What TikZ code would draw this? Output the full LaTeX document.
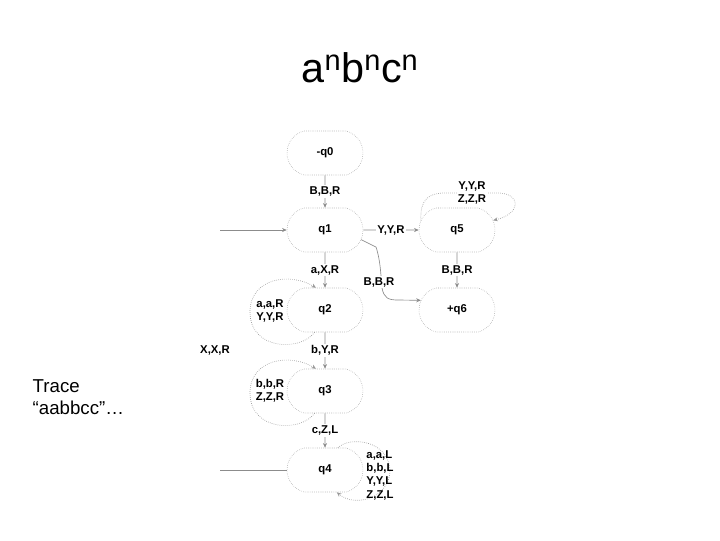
\documentclass[tikz,border=0pt]{standalone}
\usepackage{fontspec}
\setmainfont{Liberation Sans}
\usetikzlibrary{shapes.misc,arrows.meta}
\begin{document}
\begin{tikzpicture}[x=0.75pt,y=-0.75pt,
  state/.style={rounded rectangle, rounded rectangle arc length=150, draw=black!40, densely dotted, minimum width=57pt, minimum height=33pt, inner sep=0pt, font=\fontsize{8.5}{9}\selectfont\bfseries},
  edge/.style={draw=black!45, line width=0.5pt, -{Stealth[length=3.5pt,width=3pt]}},
  plain/.style={draw=black!45, line width=0.5pt},
  loopline/.style={draw=black!40, densely dotted, line width=0.5pt, -{Stealth[length=3.5pt,width=3pt]}},
  lab/.style={fill=white, inner sep=1pt, font=\fontsize{8.5}{10}\selectfont\bfseries, align=center},
  flab/.style={inner sep=1pt, font=\fontsize{8.5}{10}\selectfont\bfseries, align=left}]
\useasboundingbox (0,0) rectangle (720,540);
% title
\node (title) at (360,68) {\fontsize{31}{34}\selectfont a\textsuperscript{n}b\textsuperscript{n}c\textsuperscript{n}};
% trace
\node[anchor=west, align=left, font=\fontsize{14}{16}\selectfont] (trace) at (28,397) {Trace\\“aabbcc”…};
% states
\node[state] (q0) at (325,153) {-q0};
\node[state] (q1) at (325,230) {q1};
\node[state] (q5) at (457,230) {q5};
\node[state] (q2) at (325,310) {q2};
\node[state] (q6) at (457,310) {+q6};
\node[state] (q3) at (325,391) {q3};
\node[state] (q4) at (325,470) {q4};
% coordinates
\coordinate (in1) at (220,230);
\coordinate (out4) at (220,470);
% straight edges
\draw[edge] (q0) -- node[lab]{B,B,R} (q1);
\draw[edge] (q1) -- node[lab]{Y,Y,R} (q5);
\draw[edge] (q1) -- node[lab]{a,X,R} (q2);
\draw[edge] (q2) -- node[lab]{b,Y,R} (q3);
\draw[edge] (q3) -- node[lab]{c,Z,L} (q4);
\draw[edge] (q5) -- node[lab]{B,B,R} (q6);
\draw[edge] (in1) -- (q1.west);
\draw[plain] (q4.west) -- (out4);
\node[flab] (xxr) at (215,350) {X,X,R};
% q1 -> q6
\draw[edge] (q1.-15) -- (376,247) .. controls (381,262) and (381,280) .. (382,288)
  .. controls (384,298) and (388,300) .. (398,300) -- (q6.165);
\node[lab] (bbr2) at (379,282) {B,B,R};
% loops
\draw[loopline] (q2.245) .. controls (300,352) and (250,350) .. (250,312)
  .. controls (250,278) and (290,272) .. (q2.112);
\node[flab] (l2) at (270,311) {a,a,R\\Y,Y,R};
\draw[loopline] (q3.245) .. controls (300,433) and (250,431) .. (250,393)
  .. controls (250,359) and (290,353) .. (q3.112);
\node[flab] (l3) at (270,391) {b,b,R\\Z,Z,R};
\draw[loopline] (q4.60) .. controls (350,436) and (388,440) .. (390,470)
  .. controls (390,498) and (355,508) .. (q4.-62);
\node[flab] (l4) at (380,475) {a,a,L\\b,b,L\\Y,Y,L\\Z,Z,L};
\draw[loopline] (q5.165) .. controls (420,200) and (428,193) .. (445,193) -- (500,193)
  .. controls (522,195) and (520,214) .. (q5.15);
\node[lab] (l5) at (472,193) {Y,Y,R\\Z,Z,R};
\end{tikzpicture}
\end{document}
